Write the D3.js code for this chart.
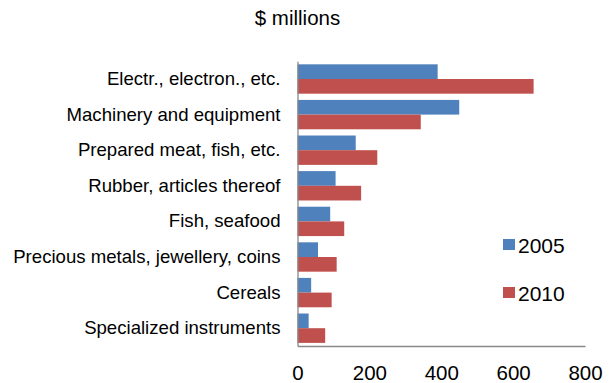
<!DOCTYPE html>
<html><head><meta charset="utf-8">
<script src="https://cdn.jsdelivr.net/npm/d3@7"></script>
<style>body{margin:0;background:#fff;} text{font-family:"Liberation Sans",Arial,sans-serif;fill:#000;}</style>
</head><body>
<svg id="c" width="612" height="383"></svg>
<script>
const categories = ["Electr., electron., etc.","Machinery and equipment","Prepared meat, fish, etc.","Rubber, articles thereof","Fish, seafood","Precious metals, jewellery, coins","Cereals","Specialized instruments"];
const series = ["2005","2010"];
const values2005 = [390,450,162,106,91,57,38,31];
const values2010 = [657,343,222,177,130,109,95,77];
const xTicks = [0,200,400,600,800];
const colors = ["#4F81BD","#C0504D"];

const svg = d3.select("#c");
const m = {l:297.5, r:585, t:61.2, b:346};
const x = d3.scaleLinear().domain([0,800]).range([m.l,m.r]);
const y = d3.scaleBand().domain(categories).range([m.t,m.b]).paddingInner(0.175).paddingOuter(0.0875);
const ys = d3.scaleBand().domain(series).range([0,y.bandwidth()]);
const data = [values2005, values2010];

categories.forEach((c,i)=>{
  series.forEach((s,j)=>{
    svg.append("rect").attr("x",x(0)).attr("y",y(c)+ys(s))
      .attr("width",x(data[j][i])-x(0)).attr("height",ys.bandwidth())
      .attr("fill",colors[j]);
  });
});

// axes
const xa = svg.append("g").attr("transform",`translate(0,${m.b})`).call(d3.axisBottom(x).tickValues(xTicks).tickSize(0).tickPadding(19));
xa.select(".domain").attr("stroke","#898989").attr("stroke-width",1.3);
xa.selectAll("text").style("font-size","20.5px").style("font-family","Liberation Sans, Arial, sans-serif");

const ya = svg.append("g").attr("transform",`translate(${m.l},0)`).call(d3.axisLeft(y).tickSize(0).tickPadding(17));
ya.select(".domain").attr("stroke","#898989").attr("stroke-width",1.3);
ya.selectAll("text").style("font-size","18.6px").style("font-family","Liberation Sans, Arial, sans-serif");

svg.append("text").attr("x",297.5).attr("y",25).attr("text-anchor","middle").style("font-size","20.5px").text("$ millions");

// legend
const lg = svg.append("g");
series.forEach((s,j)=>{
  const yy = 239 + j*48;
  lg.append("rect").attr("x",503).attr("y",yy).attr("width",12).attr("height",11).attr("fill",colors[j]);
  lg.append("text").attr("x",518).attr("y",yy+13.5).style("font-size","21px").text(s);
});
</script>
</body></html>
